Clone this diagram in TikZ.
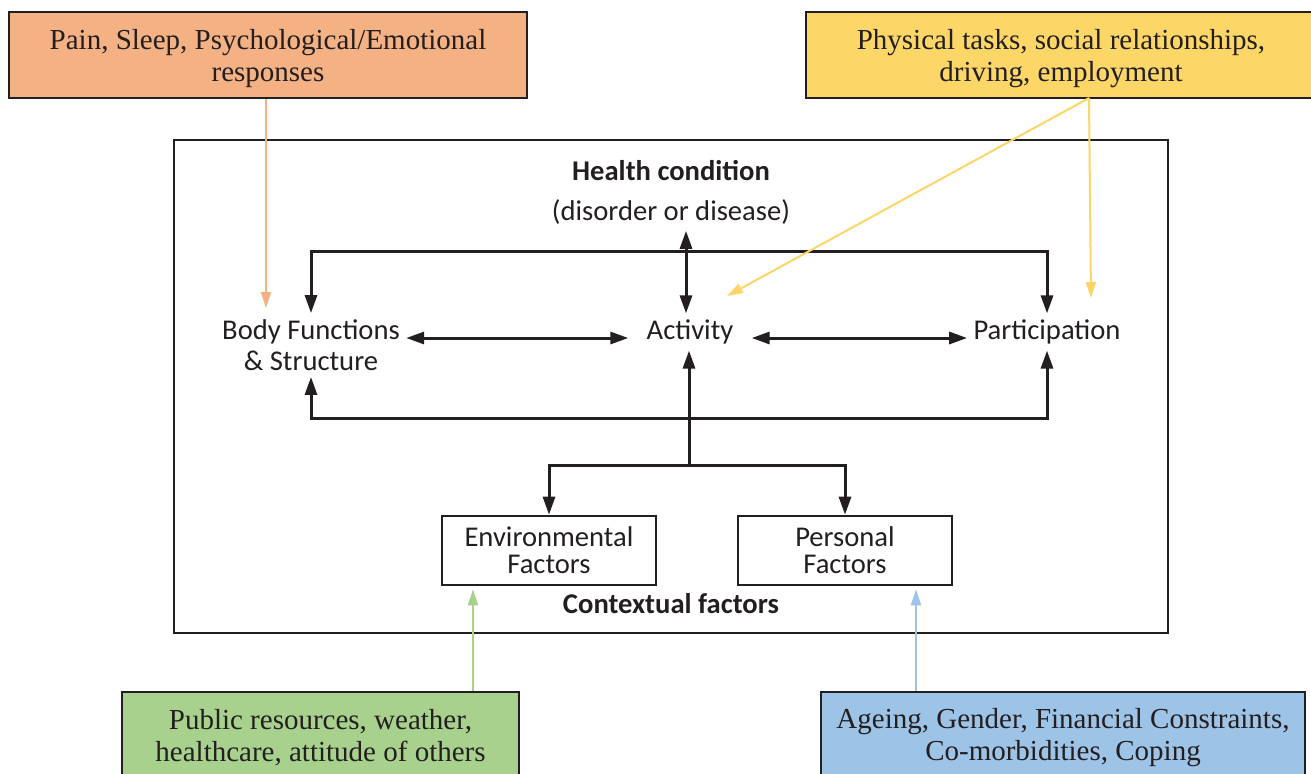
\documentclass[tikz,border=0pt]{standalone}
\usepackage{fontspec}
\setmainfont{Liberation Serif}
\newfontfamily\cfont{Carlito}
\usepackage{tikz}
\usetikzlibrary{arrows.meta}

\definecolor{painorange}{HTML}{F4B183}
\definecolor{taskyellow}{HTML}{FCD667}
\definecolor{envgreen}{HTML}{A9D18E}
\definecolor{persblue}{HTML}{9DC3E6}
\definecolor{ink}{HTML}{231F20}

\begin{document}
\begin{tikzpicture}[
  x=0.5pt, y=-0.5pt,
  lbl/.style={font=\cfont\fontsize{14.3}{15.5}\selectfont, align=center, inner sep=3pt, text=ink},
  hdr/.style={lbl, font=\cfont\bfseries\fontsize{14.3}{15.5}\selectfont},
  box/.style={lbl, draw=ink, line width=1.3pt, minimum width=107pt, minimum height=34.5pt, font=\cfont\fontsize{14.3}{13.5}\selectfont},
  note/.style={draw=ink, line width=1.3pt, align=center, inner sep=0pt, text=ink, font=\fontsize{14.5}{16}\selectfont},
  top/.style={note, minimum height=43pt},
  bot/.style={note, minimum height=46pt},
  dbl/.style={<->, >={Triangle[length=9pt,width=6pt]}, line width=1.5pt, draw=ink},
  arr/.style={dbl, ->},
  carr/.style={->, >={Triangle[length=8pt,width=5pt]}, line width=1pt}
]
  \useasboundingbox (0,0) rectangle (1311,773);

  % Outer boxes
  \node[top, fill=painorange, minimum width=259pt] (pain) at (268,55) {\rule{0pt}{14pt}Pain, Sleep, Psychological/Emotional\\responses};
  \node[top, fill=taskyellow, minimum width=255pt] (tasks) at (1061,55) {\rule{0pt}{14pt}Physical tasks, social relationships,\\driving, employment};
  \node[bot, fill=envgreen, minimum width=198.5pt] (pub) at (320.5,738) {Public resources, weather,\\healthcare, attitude of others};
  \node[bot, fill=persblue, minimum width=242pt] (age) at (1063,738) {Ageing, Gender, Financial Constraints,\\Co-morbidities, Coping};

  % Frame
  \draw[draw=ink, line width=1.3pt] (174,140) rectangle (1168,633);

  % Nodes
  \node[hdr] (health) at (671,171) {Health condition};
  \node[lbl] (disorder) at (671,212) {(disorder or disease)};
  \node[lbl] (body) at (311,345) {Body Functions\\\& Structure};
  \node[lbl, inner xsep=9pt] (act) at (690,332) {Activity};
  \node[lbl] (part) at (1047,332) {Participation};
  \node[box] (env) at (549,550.5) {Environmental\\Factors};
  \node[box] (pers) at (845,550.5) {Personal\\Factors};
  \node[hdr] (context) at (671,604) {Contextual factors};

  \coordinate (hcol) at (686,0);
  \coordinate (hrow) at (690,338);
  \coordinate (toprow) at (686,251);
  \coordinate (botrow) at (690,418);
  \coordinate (br) at (689,465);
  \coordinate (ocol) at (266,0);
  \coordinate (ysrc) at (1089,98);
  \coordinate (ytip) at (727,296);
  \coordinate (ptip) at (1091,298);
  \coordinate (gcol) at (473,0);
  \coordinate (bcol) at (916,0);

  % Arrows
  \draw[dbl] (disorder.south -| hcol) -- (act.north -| hcol);
  \draw[dbl] (body.east |- hrow) -- (act.west |- hrow);
  \draw[dbl] (act.east |- hrow) -- (part.west |- hrow);
  \draw[dbl] (body.north) |- (toprow) -| (part.north);
  \draw[dbl] (body.south) |- (botrow) -| (part.south);
  \draw[arr] (br) -- (act.south -| br);
  \draw[arr] (br) -| (env.north);
  \draw[arr] (br) -| (pers.north);

  \draw[carr, painorange] (pain.south -| ocol) -- ([yshift=2.5pt]body.north -| ocol);
  \draw[carr, taskyellow] (ysrc) -- (ytip);
  \draw[carr, taskyellow] (ysrc) -- (ptip);
  \draw[carr, envgreen, shorten >=1.5pt] (pub.north -| gcol) -- (env.south -| gcol);
  \draw[carr, persblue, shorten >=1.5pt] (age.north -| bcol) -- (pers.south -| bcol);
\end{tikzpicture}
\end{document}
